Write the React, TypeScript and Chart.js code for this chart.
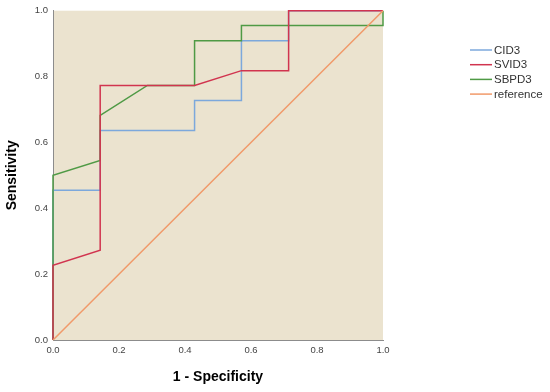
import React, { useEffect, useRef } from "react";
import { Chart, registerables } from "chart.js";

Chart.register(...registerables);

const cid3X = [0, 0, 0.143, 0.143, 0.429, 0.429, 0.571, 0.571, 0.714, 0.714, 1];
const cid3Y = [0, 0.455, 0.455, 0.636, 0.636, 0.727, 0.727, 0.909, 0.909, 1, 1];

const svid3X = [0, 0, 0.143, 0.143, 0.429, 0.571, 0.714, 0.714, 1];
const svid3Y = [0, 0.227, 0.273, 0.773, 0.773, 0.818, 0.818, 1, 1];

const sbpd3X = [0, 0, 0.143, 0.143, 0.286, 0.429, 0.429, 0.571, 0.571, 1, 1];
const sbpd3Y = [0, 0.5, 0.545, 0.682, 0.773, 0.773, 0.909, 0.909, 0.955, 0.955, 1];

const refX = [0, 1];
const refY = [0, 1];

const seriesNames = ["CID3", "SVID3", "SBPD3", "reference"];
const seriesColors = ["#7ca8dc", "#d1344f", "#4f9a45", "#f19a6a"];

const xTitle = "1 - Specificity";
const yTitle = "Sensitivity";

const FONT = "'Liberation Sans', Arial, sans-serif";

const toPts = (xs: number[], ys: number[]) => xs.map((x, i) => ({ x, y: ys[i] }));

const bgPlugin = {
  id: "plotBg",
  beforeDraw(chart: any) {
    const { ctx, chartArea } = chart;
    ctx.save();
    ctx.fillStyle = "#ebe3cf";
    ctx.fillRect(chartArea.left, chartArea.top, chartArea.right - chartArea.left, chartArea.bottom - chartArea.top);
    ctx.restore();
  },
};

const legendPlugin = {
  id: "customLegend",
  afterDraw(chart: any) {
    const { ctx } = chart;
    ctx.save();
    ctx.font = `11.5px ${FONT}`;
    ctx.textBaseline = "middle";
    ctx.textAlign = "left";
    const x0 = 470;
    const y0 = 50;
    const step = 14.7;
    seriesNames.forEach((name, i) => {
      const y = y0 + i * step;
      ctx.strokeStyle = seriesColors[i];
      ctx.lineWidth = 1.5;
      ctx.beginPath();
      ctx.moveTo(x0, y);
      ctx.lineTo(x0 + 22, y);
      ctx.stroke();
      ctx.fillStyle = "#333";
      ctx.fillText(name, x0 + 24, y + 0.5);
    });
    ctx.restore();
  },
};

export default function App() {
  const ref = useRef<HTMLCanvasElement>(null);

  useEffect(() => {
    document.body.style.margin = "0";
    const seriesData = [toPts(cid3X, cid3Y), toPts(svid3X, svid3Y), toPts(sbpd3X, sbpd3Y), toPts(refX, refY)];
    const orders = [3, 1, 2, 0];
    const chart = new Chart(ref.current!, {
      type: "scatter",
      data: {
        datasets: seriesNames.map((name, i) => ({
          label: name,
          data: seriesData[i],
          showLine: true,
          borderColor: seriesColors[i],
          backgroundColor: seriesColors[i],
          borderWidth: 1.5,
          pointRadius: 0,
          tension: 0,
          clip: false as any,
          order: orders[i],
        })),
      },
      options: {
        animation: false,
        responsive: true,
        maintainAspectRatio: false,
        layout: { padding: { left: 0, right: 167, top: 10, bottom: 0 } },
        plugins: { legend: { display: false }, tooltip: { enabled: false } },
        scales: {
          x: {
            type: "linear",
            min: 0,
            max: 1,
            afterFit: (s: any) => { s.height = 52; },
            grid: { display: false, drawTicks: false },
            border: { display: true, color: "#8c8c8c", width: 1 },
            ticks: {
              stepSize: 0.2,
              padding: 5,
              color: "#444",
              font: { family: FONT, size: 9.5 },
              callback: (v: any) => Number(v).toFixed(1),
            },
            title: {
              display: true,
              text: xTitle,
              color: "#000",
              font: { family: FONT, size: 14, weight: "bold" },
              padding: { top: 0, bottom: 6 },
            },
          },
          y: {
            type: "linear",
            min: 0,
            max: 1,
            afterFit: (s: any) => { s.width = 53; },
            grid: { display: false, drawTicks: false },
            border: { display: true, color: "#8c8c8c", width: 1 },
            ticks: {
              stepSize: 0.2,
              padding: 5,
              color: "#444",
              font: { family: FONT, size: 9.5 },
              callback: (v: any) => Number(v).toFixed(1),
            },
            title: {
              display: true,
              text: yTitle,
              color: "#000",
              font: { family: FONT, size: 14, weight: "bold" },
              padding: { top: 4, bottom: 0 },
            },
          },
        },
      },
      plugins: [bgPlugin, legendPlugin],
    });
    return () => chart.destroy();
  }, []);

  return (
    <div style={{ width: 550, height: 392, position: "relative", background: "#fff" }}>
      <canvas ref={ref} />
    </div>
  );
}
